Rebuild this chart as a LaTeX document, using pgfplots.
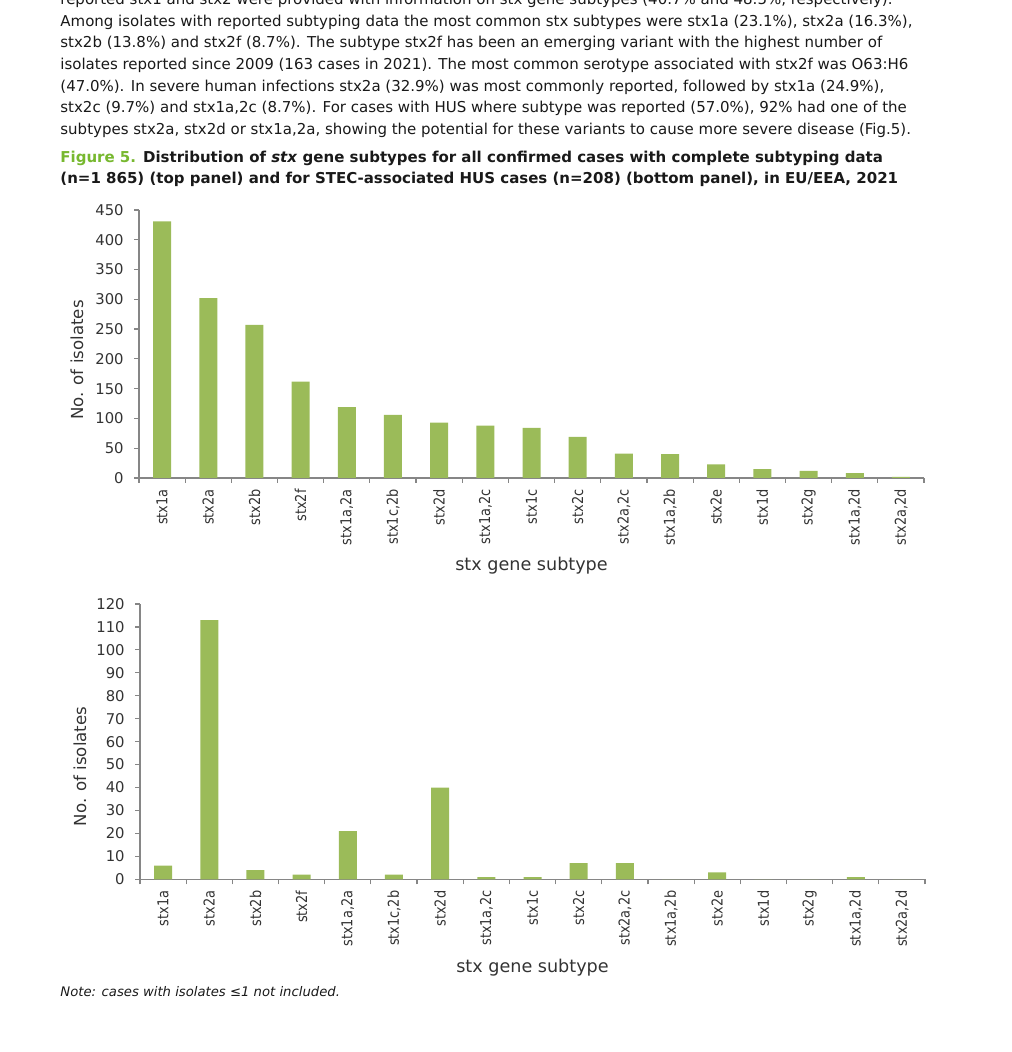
\documentclass[border=0pt]{standalone}
\usepackage{fontspec}
\setmainfont{DejaVu Sans}
\newfontfamily\narrowfont{DejaVu Sans}[FakeStretch=0.86]
\usepackage{pgfplots}
\pgfplotsset{compat=1.18}

\definecolor{bargreen}{HTML}{9BBB59}
\definecolor{figgreen}{HTML}{77B82F}
\definecolor{axgray}{HTML}{868686}
\definecolor{txtgray}{HTML}{333333}

% stx subtypes, same order in both panels
\pgfplotstableread{
idx count
0 431
1 302
2 257
3 162
4 119
5 106
6 93
7 88
8 84
9 69
10 41
11 40
12 23
13 15
14 12
15 8
16 2
}\allcases
\pgfplotstableread{
idx count
0 6
1 113
2 4
3 2
4 21
5 2
6 40
7 1
8 1
9 7
10 7
11 0
12 3
13 0
14 0
15 1
16 0
}\huscases

\pgfplotsset{stxaxis/.style={
  scale only axis, width=392.5pt,
  xmin=-0.5, xmax=16.5, ymin=0,
  axis x line*=bottom, axis y line*=left,
  axis line style={-, draw=axgray, line width=0.6pt},
  tick align=outside, major tick length=2.5pt, minor tick length=2.5pt,
  tick style={draw=axgray, line width=0.6pt},
  xtick={0,...,16},
  xticklabels={stx1a,stx2a,stx2b,stx2f,{stx1a,2a},{stx1c,2b},stx2d,{stx1a,2c},stx1c,stx2c,{stx2a,2c},{stx1a,2b},stx2e,stx1d,stx2g,{stx1a,2d},{stx2a,2d}},
  major x tick style={draw=none},
  minor xtick={-0.5,0.5,...,16.5},
  xticklabel style={rotate=90, anchor=east, inner xsep=3pt, inner ysep=0pt, text=txtgray,
    font=\narrowfont\fontsize{7.5}{8}\selectfont},
  yticklabel style={inner sep=0pt, xshift=-5pt, text=txtgray, font=\fontsize{7.4}{8}\selectfont},
  /pgf/number format/assume math mode=true,
  xlabel={stx gene subtype}, ylabel={No. of isolates},
  xlabel style={font=\fontsize{8.8}{10}\selectfont, text=txtgray, anchor=base},
  ylabel style={font=\fontsize{8.3}{10}\selectfont, text=txtgray, anchor=center},
  ybar, bar width=9pt,
}}

\begin{document}
\begin{tikzpicture}
\path[use as bounding box] (0,0) rectangle (505.5pt,526pt);
\clip (0,0) rectangle (505.5pt,526pt);

\begin{scope}[x=0.5pt, y=0.5pt, every node/.style={anchor=base west, inner sep=0pt, font=\fontsize{7.5}{8}\selectfont, text=black!90}]
\node at (60,1052-4.5)   {reported stx1 and stx2 were provided with information on stx gene subtypes (40.7\% and 48.5\%, respectively).};
\node at (60,1052-26.2)  {Among isolates with reported subtyping data the most common stx subtypes were stx1a (23.1\%), stx2a (16.3\%),};
\node at (60,1052-47.9)  {stx2b (13.8\%) and stx2f (8.7\%). The subtype stx2f has been an emerging variant with the highest number of};
\node at (60,1052-69.6)  {isolates reported since 2009 (163 cases in 2021). The most common serotype associated with stx2f was O63:H6};
\node at (60,1052-91.3)  {(47.0\%). In severe human infections stx2a (32.9\%) was most commonly reported, followed by stx1a (24.9\%),};
\node at (60,1052-113)   {stx2c (9.7\%) and stx1a,2c (8.7\%). For cases with HUS where subtype was reported (57.0\%), 92\% had one of the};
\node at (60,1052-134.7) {subtypes stx2a, stx2d or stx1a,2a, showing the potential for these variants to cause more severe disease (Fig.5).};
\node[font=\bfseries\fontsize{7.5}{8}\selectfont] at (60,1052-163) {{\color{figgreen}Figure 5.} Distribution of \textit{stx} gene subtypes for all confirmed cases with complete subtyping data};
\node[font=\bfseries\fontsize{7.5}{8}\selectfont] at (60,1052-183.5) {(n=1 865) (top panel) and for STEC-associated HUS cases (n=208) (bottom panel), in EU/EEA, 2021};
\node[font=\itshape\fontsize{6.6}{8}\selectfont] at (60,1052-997) {Note: cases with isolates ≤1 not included.};
\end{scope}

% top panel: all confirmed cases
\begin{axis}[stxaxis, at={(69.5pt,287pt)}, anchor=south west,
  height=134pt, ymax=450, ytick={0,50,...,450},
  xlabel style={at={(axis description cs:0.5,-0.347)}},
  ylabel style={at={(axis description cs:-0.079,0.44)}}]
\addplot[fill=bargreen, draw=none] table[x=idx, y=count] {\allcases};
\end{axis}

% bottom panel: HUS cases
\begin{axis}[stxaxis, at={(70pt,86.35pt)}, anchor=south west,
  height=137.65pt, ymax=120, ytick={0,10,...,120},
  xlabel style={at={(axis description cs:0.5,-0.340)}},
  ylabel style={at={(axis description cs:-0.0765,0.41)}}]
\addplot[fill=bargreen, draw=none] table[x=idx, y=count] {\huscases};
\end{axis}
\end{tikzpicture}
\end{document}
